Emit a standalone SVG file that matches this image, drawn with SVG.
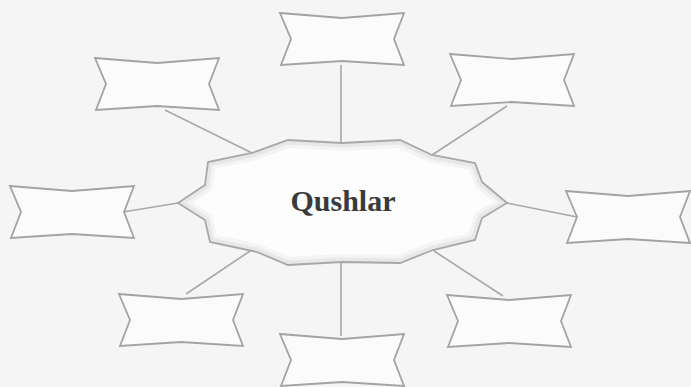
<svg xmlns="http://www.w3.org/2000/svg" width="691" height="387" viewBox="0 0 691 387">
<style>
.box{fill:#fbfbfb;stroke:#a3a3a3;stroke-width:1.8;stroke-linejoin:miter}
.conn line{stroke:#a8a8a8;stroke-width:1.6}
.lbl{font-family:"Liberation Serif","Times New Roman",serif;font-weight:bold;font-size:30px;fill:#3a3a3a;text-anchor:middle}
</style>
<defs>
<path id="bx" d="M0,0 L62,5 L124,0 L114,26 L124,52 L62,48 L1,52 L11,26 Z"/>
<path id="star" d="M288,140 L342,143 L400,140 L432,155 L475,163 L482,182 L507,203 L482,218 L475,240 L433,250 L400,263 L342,262 L288,265 L257,252 L210,242 L205,220 L178,203 L205,185 L208,162 L252,153 Z"/>
<clipPath id="sc"><use href="#star"/></clipPath>
</defs>
<rect width="691" height="387" fill="#f5f5f5"/>
<g id="connectors" class="conn">
<line x1="341" y1="65" x2="341" y2="143"/>
<line x1="165" y1="110" x2="252" y2="153"/>
<line x1="507" y1="106" x2="432" y2="155"/>
<line x1="123" y1="212" x2="178" y2="203"/>
<line x1="507" y1="203" x2="577" y2="217"/>
<line x1="253" y1="249" x2="186" y2="294"/>
<line x1="434" y1="251" x2="503" y2="296"/>
<line x1="341" y1="263" x2="341" y2="336"/>
</g>
<g id="center">
<use href="#star" fill="#fdfdfd"/>
<use href="#star" fill="none" stroke="#e4e4e4" stroke-width="9" clip-path="url(#sc)"/>
<use href="#star" fill="none" stroke="#ececec" stroke-width="16" clip-path="url(#sc)" opacity="0.5"/>
<use href="#star" fill="none" stroke="#a8a8a8" stroke-width="1.8"/>
<text class="lbl" x="343" y="211">Qushlar</text>
</g>
<g id="box-top"><use href="#bx" class="box" transform="translate(280,13)"/></g>
<g id="box-topleft"><use href="#bx" class="box" transform="translate(95,58)"/></g>
<g id="box-topright"><use href="#bx" class="box" transform="translate(450,54)"/></g>
<g id="box-left"><use href="#bx" class="box" transform="translate(10,186)"/></g>
<g id="box-right"><use href="#bx" class="box" transform="translate(566,191)"/></g>
<g id="box-bottomleft"><use href="#bx" class="box" transform="translate(119,294)"/></g>
<g id="box-bottomright"><use href="#bx" class="box" transform="translate(447,295)"/></g>
<g id="box-bottom"><use href="#bx" class="box" transform="translate(280,334)"/></g>
</svg>
